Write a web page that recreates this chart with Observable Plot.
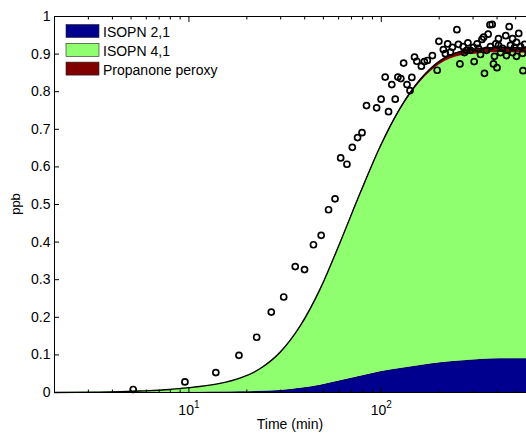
<!DOCTYPE html>
<html><head><meta charset="utf-8">
<script src="https://cdn.jsdelivr.net/npm/d3@7"></script>
<script src="https://cdn.jsdelivr.net/npm/@observablehq/plot@0.6"></script>
<style>body{margin:0;background:#fff;} svg{display:block;}</style>
</head><body><div id="chart"></div>
<script>
// Model output (stacked areas), time in minutes, values in ppb
const times     = [2, 3.44, 5.56, 7.96, 10, 11.4, 14.5, 18.4, 23.4, 29.8, 37.9, 48.1, 61.1, 77.8, 98.9, 125.7, 159.7, 203, 258, 328, 417, 569];
const isopn21   = [0, 0, 0, 0.0002, 0.0004, 0.0005, 0.001, 0.002, 0.003, 0.005, 0.011, 0.019, 0.031, 0.043, 0.055, 0.064, 0.072, 0.079, 0.084, 0.088, 0.090, 0.090];
const isopn41   = [0, 0.001, 0.004, 0.0078, 0.0126, 0.0155, 0.023, 0.036, 0.0595, 0.101, 0.1645, 0.254, 0.365, 0.484, 0.595, 0.687, 0.753, 0.794, 0.811, 0.813, 0.814, 0.812];
const propanone = [0, 0, 0, 0, 0, 0, 0, 0, 0.0005, 0.001, 0.0015, 0.002, 0.003, 0.004, 0.005, 0.006, 0.008, 0.010, 0.012, 0.014, 0.014, 0.014];

// Observations
const obsTime = [
  5.13, 9.53, 13.8, 18.2, 22.5, 26.8, 31.1, 35.7,
  39.9, 44.4, 48.7, 53.2, 57.5, 61.5, 66.3, 70.7,
  75.3, 79.4, 83.8, 94.6, 109.1, 99.8, 118.2, 104.8,
  113.4, 122.0, 126.4, 136.1, 144.2, 141.1, 130.7, 148.9,
  153.1, 161.6, 167.5, 173.6, 184.4, 195.3, 199.3, 210.3,
  221.4, 247.3, 256.4, 282.2, 278.2, 301.5, 304.0, 333.8,
  340.7, 359.5, 367.4, 377.3, 344.0, 383.2, 399.6, 393.9,
  444.0, 462.5, 518.3, 545.8, 228.8, 215.4, 266.4, 315.1,
  234.3, 251.8, 270.6, 290.7, 320.1, 352.4, 369.6, 406.9,
  416.8, 426.9, 453.2, 469.8, 481.3, 492.9, 504.9, 529.7,
  542.6, 555.7, 327.9, 387.8, 447.7, 504.9, 481.3, 406.9
];
const obsPpb = [
  0.008, 0.028, 0.053, 0.099, 0.147, 0.214, 0.254, 0.335,
  0.327, 0.393, 0.418, 0.486, 0.515, 0.624, 0.607, 0.652,
  0.678, 0.691, 0.763, 0.757, 0.747, 0.780, 0.780, 0.839,
  0.819, 0.839, 0.835, 0.819, 0.838, 0.803, 0.876, 0.892,
  0.881, 0.868, 0.880, 0.883, 0.896, 0.857, 0.934, 0.912,
  0.927, 0.965, 0.874, 0.930, 0.910, 0.918, 0.880, 0.939,
  0.945, 0.953, 0.978, 0.979, 0.849, 0.874, 0.864, 0.927,
  0.949, 0.973, 0.955, 0.856, 0.905, 0.901, 0.920, 0.927,
  0.918, 0.926, 0.904, 0.910, 0.915, 0.910, 0.920, 0.923,
  0.904, 0.915, 0.910, 0.923, 0.904, 0.918, 0.931, 0.920,
  0.902, 0.926, 0.899, 0.894, 0.896, 0.894, 0.941, 0.941
];

const seriesNames  = ["ISOPN 2,1", "ISOPN 4,1", "Propanone peroxy"];
const seriesColors = ["#00008F", "#8FFF70", "#800000"];
const yTicks = [0, 0.1, 0.2, 0.3, 0.4, 0.5, 0.6, 0.7, 0.8, 0.9, 1];
const yTickLabels = ["0", "0.1", "0.2", "0.3", "0.4", "0.5", "0.6", "0.7", "0.8", "0.9", "1"];
const xMajorTicks = [10, 100];
const xMajorBase = ["10", "10"];
const xMajorExp = ["1", "2"];
const xMinorTicks = [2, 3, 4, 5, 6, 7, 8, 9, 20, 30, 40, 50, 60, 70, 80, 90, 200, 300, 400, 500];
const xDomain = [2, 569];
const yDomain = [0, 1];

const seriesValues = [isopn21, isopn41, propanone];
const rows = [];
seriesNames.forEach((s, k) => times.forEach((t, i) => rows.push({t, v: seriesValues[k][i], s})));
const total = times.map((t, i) => ({t, v: isopn21[i] + isopn41[i] + propanone[i]}));
const blueTop = times.map((t, i) => ({t, v: isopn21[i]}));
const obs = obsTime.map((t, i) => ({t, v: obsPpb[i]}));

const font = "Liberation Sans, Arial, Helvetica, sans-serif";
const plot = Plot.plot({
  width: 526, height: 436,
  marginLeft: 54, marginRight: 0, marginTop: 16, marginBottom: 44,
  style: {fontFamily: font, fontSize: "14px", background: "white", color: "black"},
  x: {type: "log", domain: xDomain, label: null},
  y: {domain: yDomain, label: null},
  color: {domain: seriesNames, range: seriesColors},
  marks: [
    Plot.areaY(rows, Plot.stackY({x: "t", y: "v", fill: "s", order: seriesNames, curve: "monotone-x"})),
    Plot.lineY(blueTop, {x: "t", y: "v", stroke: "black", strokeWidth: 0.5, strokeOpacity: 0.7, curve: "monotone-x"}),
    Plot.lineY(total, {x: "t", y: "v", stroke: "black", strokeWidth: 1.3, curve: "monotone-x"}),
    Plot.dot(obs, {x: "t", y: "v", r: 3, stroke: "black", strokeWidth: 1.7, fill: "none"}),
    Plot.ruleY([yDomain[0], yDomain[1]], {stroke: "black", strokeWidth: 1}),
    Plot.ruleX([xDomain[0]], {stroke: "black", strokeWidth: 1}),
    Plot.axisY(yTicks, {anchor: "left", tickSize: -5, tickPadding: 9, tickFormat: d => yTickLabels[yTicks.indexOf(d)], label: null}),
    Plot.axisX(xMajorTicks, {anchor: "bottom", tickSize: -5, tickPadding: 18, tickFormat: d => xMajorBase[xMajorTicks.indexOf(d)], label: null}),
    Plot.axisX(xMinorTicks, {anchor: "bottom", tickSize: -2.5, fill: "none", label: null}),
    Plot.axisX(xMajorTicks, {anchor: "top", tickSize: -5, fill: "none", label: null}),
    Plot.axisX(xMinorTicks, {anchor: "top", tickSize: -2.5, fill: "none", label: null})
  ]
});

const svg = d3.select(plot);
// superscript exponents on the x tick labels
svg.selectAll("g[aria-label='x-axis tick label'] text").each(function(d, i) {
  const el = d3.select(this);
  const base = el.text();
  el.text(null);
  el.append("tspan").text(base);
  el.append("tspan").attr("dy", "-7").attr("font-size", 10).text(xMajorExp[i]);
});
svg.append("text")
  .attr("transform", "translate(17,204) rotate(-90)")
  .attr("text-anchor", "middle").attr("dominant-baseline", "middle")
  .attr("font-family", font).attr("font-size", 13).attr("fill", "black")
  .text("ppb");
svg.append("text")
  .attr("x", 290).attr("y", 429)
  .attr("text-anchor", "middle")
  .attr("font-family", font).attr("font-size", 14).attr("fill", "black")
  .text("Time (min)");
const lg = svg.append("g").attr("text-anchor", "start");
seriesNames.forEach((n, i) => {
  lg.append("rect")
    .attr("x", 66).attr("y", 24.5 + i * 18.8).attr("width", 33).attr("height", 13)
    .attr("fill", seriesColors[i]).attr("stroke", "#222").attr("stroke-width", 0.6);
  lg.append("text")
    .attr("x", 103).attr("y", 37 + i * 18.8)
    .attr("text-anchor", "start")
    .attr("font-family", font).attr("font-size", 14).attr("fill", "black")
    .text(n);
});
document.getElementById("chart").appendChild(plot);
</script>
</body></html>
